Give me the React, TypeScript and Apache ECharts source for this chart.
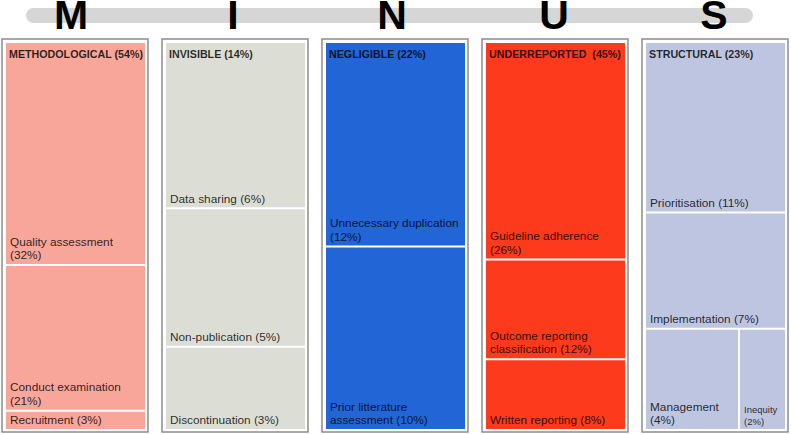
import { useEffect, useRef } from 'react'
import * as echarts from 'echarts'
import type { EChartsOption } from 'echarts'

const FONT = '"Liberation Sans", Arial, sans-serif'

// top banner letters and the five groups
const letters = ['M', 'I', 'N', 'U', 'S']
const letterCenters = [71, 233, 392, 554, 714]
const groupNames = ['METHODOLOGICAL', 'INVISIBLE', 'NEGLIGIBLE', 'UNDERREPORTED ', 'STRUCTURAL']
const groupShares = [54, 14, 22, 45, 23]
const groupColors = ['#f8a59a', '#dcddd4', '#2265d6', '#fd3a1b', '#bdc5e1']

// leaves of each group: name, area, printed share, share on its own line
const methodologicalNames = ['Quality assessment', 'Conduct examination', 'Recruitment']
const methodologicalValues = [32.3, 21.1, 2.8]
const methodologicalPct = [32, 21, 3]
const methodologicalWrap = [true, true, false]

const invisibleNames = ['Data sharing', 'Non-publication', 'Discontinuation']
const invisibleValues = [6, 5, 3]
const invisiblePct = [6, 5, 3]
const invisibleWrap = [false, false, false]

const negligibleNames = ['Unnecessary duplication', 'Prior litterature\nassessment']
const negligibleValues = [11.6, 10.4]
const negligiblePct = [12, 10]
const negligibleWrap = [true, false]

const underreportedNames = ['Guideline adherence', 'Outcome reporting\nclassification', 'Written reporting']
const underreportedValues = [25.8, 11.8, 8.4]
const underreportedPct = [26, 12, 8]
const underreportedWrap = [true, false, false]

const structuralNames = ['Prioritisation', 'Implementation', 'Management', 'Inequity']
const structuralValues = [10.1, 6.9, 4, 2]
const structuralPct = [11, 7, 4, 2]
const structuralWrap = [false, false, true, true]

const groupItems = [
  { names: methodologicalNames, values: methodologicalValues, pct: methodologicalPct, wrap: methodologicalWrap },
  { names: invisibleNames, values: invisibleValues, pct: invisiblePct, wrap: invisibleWrap },
  { names: negligibleNames, values: negligibleValues, pct: negligiblePct, wrap: negligibleWrap },
  { names: underreportedNames, values: underreportedValues, pct: underreportedPct, wrap: underreportedWrap },
  { names: structuralNames, values: structuralValues, pct: structuralPct, wrap: structuralWrap },
]

const PANEL_STEP = 160
const TEXT_COLOR = 'rgba(0,0,0,0.82)'

function buildOption(): EChartsOption {
  const graphic: any[] = [
    {
      type: 'rect',
      shape: { x: 26, y: 8, width: 727, height: 15, r: 7.5 },
      style: { fill: '#d6d6d6' },
      z: 1,
    },
  ]
  letters.forEach((ch, i) => {
    graphic.push({
      type: 'text',
      x: letterCenters[i],
      y: 15,
      z: 2,
      style: {
        text: ch,
        fill: '#000',
        font: `bold 41px ${FONT}`,
        align: 'center',
        verticalAlign: 'middle',
      },
    })
  })
  groupNames.forEach((name, i) => {
    graphic.push({
      type: 'rect',
      shape: { x: 2 + PANEL_STEP * i, y: 39, width: 146, height: 393 },
      style: { fill: 'none', stroke: '#8c8c8c', lineWidth: 1.5 },
      z: 1,
    })
    graphic.push({
      type: 'text',
      x: 9 + PANEL_STEP * i,
      y: 54,
      z: 100,
      style: {
        text: `${name} (${groupShares[i]}%)`,
        fill: TEXT_COLOR,
        font: `bold 10.7px ${FONT}`,
        align: 'left',
        verticalAlign: 'middle',
      },
    })
  })

  const series = groupItems.map((g, i) => ({
    type: 'treemap' as const,
    left: 6 + PANEL_STEP * i,
    top: 43,
    width: 139,
    height: 386,
    roam: false,
    nodeClick: false as const,
    breadcrumb: { show: false },
    silent: true,
    squareRatio: 1,
    levels: [{ itemStyle: { borderWidth: 0, gapWidth: 2, borderColor: '#fff' } }],
    itemStyle: { borderWidth: 0, gapWidth: 0 },
    label: {
      show: true,
      position: 'insideBottomLeft' as const,
      distance: 4,
      offset: [0, 2],
      padding: 0,
      fontFamily: FONT,
      fontSize: 11.8,
      lineHeight: 13.5,
      color: TEXT_COLOR,
      formatter: (p: any) => {
        const j = g.names.indexOf(p.name)
        return `${p.name}${g.wrap[j] ? '\n' : ' '}(${g.pct[j]}%)`
      },
    },
    data: g.names.map((n, j) => ({
      name: n,
      value: g.values[j],
      itemStyle: { color: groupColors[i] },
      ...(n === 'Inequity' ? { label: { fontSize: 9.5, lineHeight: 12 } } : {}),
    })),
  }))

  return {
    animation: false,
    backgroundColor: '#fff',
    graphic,
    series,
  }
}

export default function App() {
  const ref = useRef<HTMLDivElement>(null)

  useEffect(() => {
    if (!ref.current) return
    const chart = echarts.init(ref.current, undefined, { renderer: 'svg' })
    chart.setOption(buildOption())
    return () => chart.dispose()
  }, [])

  return (
    <div
      ref={ref}
      style={{ position: 'fixed', left: 0, top: 0, width: 791, height: 434, background: '#fff' }}
    />
  )
}
